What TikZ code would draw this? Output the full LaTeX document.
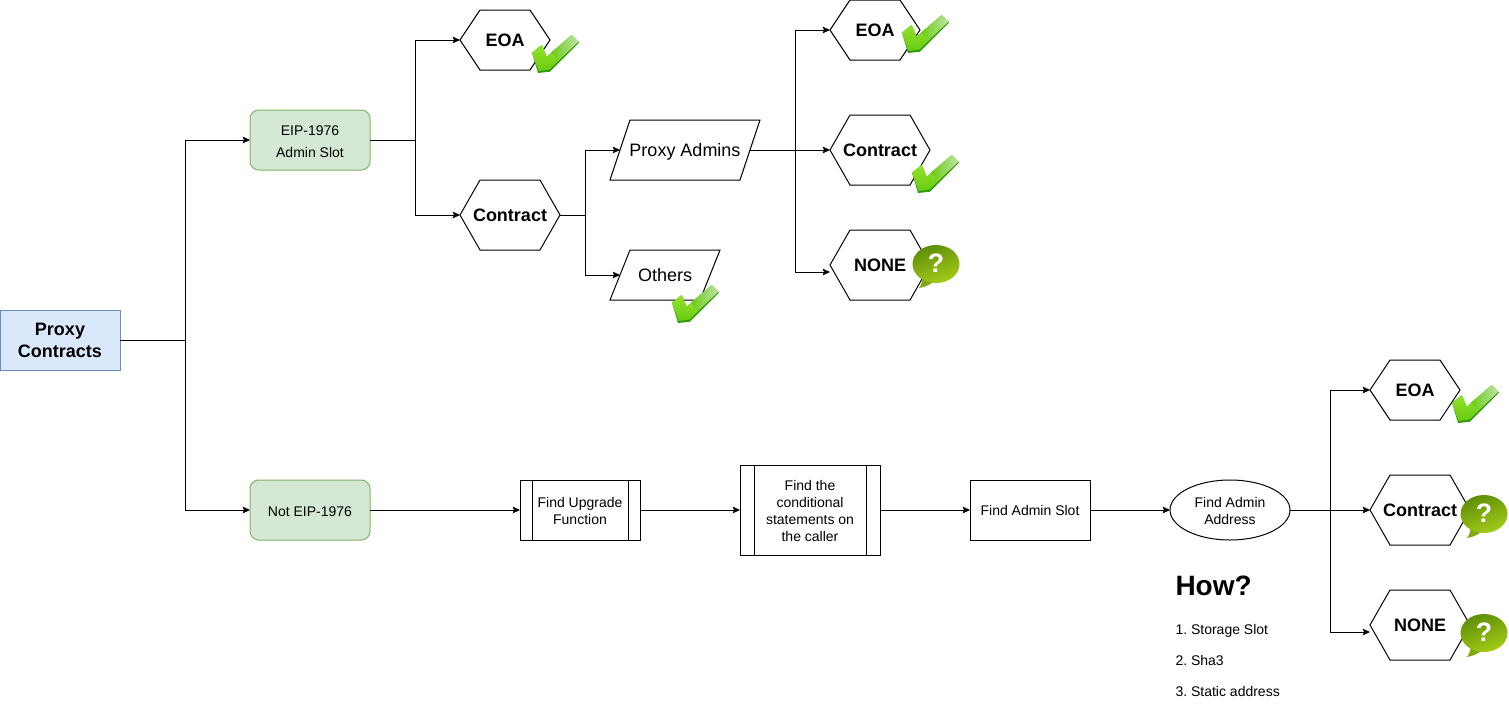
\documentclass[tikz,border=0pt]{standalone}
\usepackage{fontspec}
\setmainfont{Liberation Sans}
\usetikzlibrary{arrows.meta,calc,shapes.geometric}
\frenchspacing

\definecolor{bluefill}{HTML}{DAE8FC}
\definecolor{blueline}{HTML}{6C8EBF}
\definecolor{greenfill}{HTML}{D5E8D4}
\definecolor{greenline}{HTML}{82B366}
\definecolor{checklight}{HTML}{A4EA38}
\definecolor{checkmid}{HTML}{68CC10}
\definecolor{checkdark}{HTML}{349A12}
\definecolor{checkpale}{HTML}{C0E4AC}
\definecolor{askdark}{HTML}{5E8E08}
\definecolor{asklight}{HTML}{A4CC18}
\definecolor{asktail}{HTML}{7FAA10}

\newcommand{\topgap}[1]{\rule{0pt}{#1}}

\tikzset{
	small/.style={font=\fontsize{10.5}{12.6}\selectfont, align=center},
	big/.style={font=\fontsize{13.5}{16.2}\selectfont, align=center, text depth=0pt},
	strong/.style={font=\fontsize{13.5}{16.5}\selectfont\bfseries, align=center},
	hexnode/.style 2 args={rectangle, inner sep=0pt, outer sep=0pt,
		minimum width=#1*0.75pt, minimum height=#2*0.75pt, strong,
		append after command={\pgfextra{\let\mainnode=\tikzlastnode
			\draw (\mainnode.west) -- ([xshift=15pt]\mainnode.north west)
				-- ([xshift=-15pt]\mainnode.north east) -- (\mainnode.east)
				-- ([xshift=-15pt]\mainnode.south east)
				-- ([xshift=15pt]\mainnode.south west) -- cycle;
		}}},
	slantbox/.style 2 args={rectangle, inner sep=0pt, outer sep=0pt,
		minimum width=#1*0.75pt, minimum height=#2*0.75pt, big,
		append after command={\pgfextra{\let\mainnode=\tikzlastnode
			\draw ([xshift=-7.5pt]\mainnode.south west) -- ([xshift=7.5pt]\mainnode.north west)
				-- ([xshift=7.5pt]\mainnode.north east)
				-- ([xshift=-7.5pt]\mainnode.south east) -- cycle;
		}}},
	flowbox/.style 2 args={rectangle, draw, inner sep=0pt, outer sep=0pt,
		minimum width=#1*0.75pt, minimum height=#2*0.75pt, small},
	greenbox/.style={flowbox={120}{60}, rounded corners=6.5pt, fill=greenfill, draw=greenline},
	procbox/.style n args={3}{flowbox={#1}{#2},
		path picture={
			\draw ([xshift=#3*0.75pt]path picture bounding box.north west)
				-- ([xshift=#3*0.75pt]path picture bounding box.south west);
			\draw ([xshift=-#3*0.75pt]path picture bounding box.north east)
				-- ([xshift=-#3*0.75pt]path picture bounding box.south east);
		}},
	link/.style={-{Stealth[length=5.5pt,width=5pt,inset=1pt]}},
	checkmark/.pic={
		\fill[checkdark] (1,16.7) -- (10.7,9) -- (15.7,20.7) -- (40.7,-1) -- (48,6.7)
			-- (19,35.7) -- (7,37) -- cycle;
		\shade[top color=checklight, bottom color=checkmid]
			(1,16.7) -- (10.7,9) -- (15.7,20.7) -- (40.7,-1) -- (47.5,5.5)
			-- (18.5,33.5) -- (7.5,35) -- cycle;
		\shade[left color=checkmid, right color=checkpale]
			(20,16.5) -- (40.7,-1) -- (47.5,5.5) -- (27,24.5) -- cycle;
	},
	questionbubble/.pic={
		\fill[asktail] (-13,11) .. controls (-13,17) and (-15,21) .. (-17,24)
			.. controls (-11,23) and (-6,21) .. (-2,17) -- cycle;
		\shade[top color=askdark, bottom color=asklight, shading angle=20]
			(0,0) ellipse (23.5 and 19);
		\node[text=white, font=\fontsize{20}{20}\selectfont\bfseries] (mark) at (0,-1) {?};
	},
}

\begin{document}
\begin{tikzpicture}[x=0.75pt,y=-0.75pt,line width=0.75pt]

	% page
	\useasboundingbox (0,0) rectangle (1509,721);

	% first column
	\node[flowbox={120}{60}, fill=bluefill, draw=blueline, strong] (proxy) at (60,340) {Proxy\\Contracts};
	\node[greenbox] (eip) at (310,140) {\topgap{9.8pt}EIP-1976\\[3.9pt]Admin Slot};
	\node[greenbox] (noteip) at (310,510) {\topgap{9.1pt}Not EIP-1976};

	% upper branch
	\node[hexnode={90}{60}] (eoa) at (505,40) {EOA};
	\node[hexnode={100}{70}] (contract) at (510,215) {Contract};
	\node[slantbox={130}{60}] (admins) at (685,150) {Proxy Admins};
	\node[slantbox={90}{50}] (others) at (665,275) {Others};
	\node[hexnode={90}{60}] (admineoa) at (875,30) {EOA};
	\node[hexnode={100}{70}] (admincontract) at (880,150) {Contract};
	\node[hexnode={100}{70}] (adminnone) at (880,265) {NONE};

	% lower branch
	\node[procbox={120}{60}{12}] (upgrade) at (580,510) {\topgap{9.1pt}Find Upgrade\\Function};
	\node[procbox={140}{90}{14}] (conditional) at (810,510) {\topgap{9.1pt}Find the\\conditional\\statements on\\the caller};
	\node[flowbox={120}{60}] (slot) at (1030,510) {Find Admin Slot};
	\node[ellipse, draw, inner sep=0pt, outer sep=0pt, minimum width=90pt, minimum height=45pt, small] (address) at (1230,510) {\topgap{9.1pt}Find Admin\\Address};
	\node[hexnode={90}{60}] (loweoa) at (1415,390) {EOA};
	\node[hexnode={100}{70}] (lowcontract) at (1420,510) {Contract};
	\node[hexnode={100}{70}] (lownone) at (1420,625) {NONE};

	% notes
	\node[anchor=west, inner sep=0pt, font=\fontsize{21}{25}\selectfont\bfseries] (how) at (1175,586) {How?};
	\node[anchor=west, inner sep=0pt, align=left, font=\fontsize{10.5}{23.25}\selectfont] (steps) at (1175,660) {1. Storage Slot\\2. Sha3\\3. Static address};

	% connectors
	\draw[link] (proxy.east) -- ++(65,0) |- (eip.west);
	\draw[link] (proxy.east) -- ++(65,0) |- (noteip.west);
	\draw[link] (eip.east) -- ++(45,0) |- (eoa.west);
	\draw[link] (eip.east) -- ++(45,0) |- (contract.west);
	\draw[link] (contract.east) -- ++(25,0) |- (admins.west);
	\draw[link] (contract.east) -- ++(25,0) |- (others.west);
	\draw[link] (admins.east) -- ++(45,0) |- (admineoa.west);
	\draw[link] (admins.east) -- (admincontract.west);
	\draw[link] (admins.east) -- ++(45,0) |- ($(adminnone.west)+(0,7)$);

	\draw[link] (noteip.east) -- (upgrade.west);
	\draw[link] (upgrade.east) -- (conditional.west);
	\draw[link] (conditional.east) -- (slot.west);
	\draw[link] (slot.east) -- (address.west);
	\draw[link] (address.east) -- ++(40,0) |- (loweoa.west);
	\draw[link] (address.east) -- (lowcontract.west);
	\draw[link] (address.east) -- ++(40,0) |- ($(lownone.west)+(0,7)$);

	% icons
	\foreach \i/\x/\y in {a/531/36,b/901/16,c/911/156,d/671/286,e/1451/386} {
		\pic (check\i) at (\x,\y) {checkmark};
	}
	\foreach \i/\x/\y in {a/936/264,b/1484/514,c/1484/633} {
		\pic (ask\i) at (\x,\y) {questionbubble};
	}

\end{tikzpicture}
\end{document}
